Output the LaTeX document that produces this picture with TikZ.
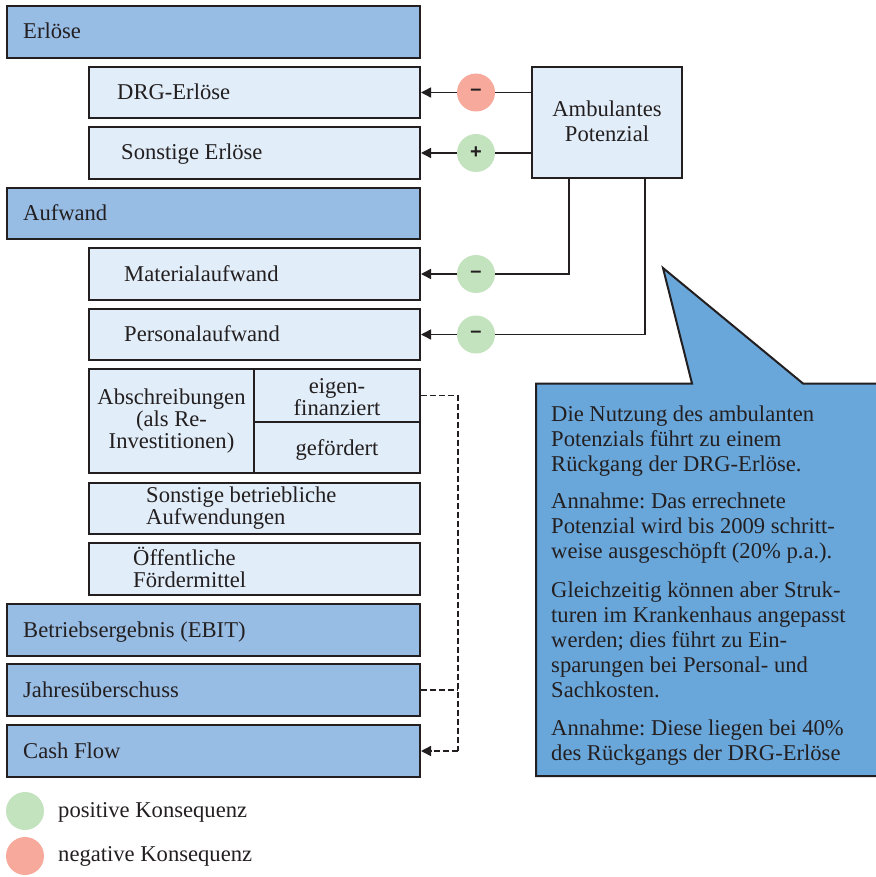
\documentclass[tikz,border=0pt]{standalone}
\usepackage{fontspec}
\setmainfont{Liberation Serif}
\newfontfamily\signfont{Liberation Sans}
\usetikzlibrary{arrows.meta}
\frenchspacing
\definecolor{ink}{HTML}{231F20}
\definecolor{darkfill}{HTML}{98BDE4}
\definecolor{lightfill}{HTML}{E1EDF8}
\definecolor{callfill}{HTML}{69A7DB}
\definecolor{posfill}{HTML}{C3E2BE}
\definecolor{negfill}{HTML}{F7A99C}
\newcommand\myfs{\fontsize{22.6}{25}\selectfont}
\tikzset{
  boxbase/.style={draw=ink, line width=2pt, inner sep=0, rectangle},
  darkbox/.style={boxbase, fill=darkfill},
  lightbox/.style={boxbase, fill=lightfill},
  txt/.style={inner sep=0, font=\myfs, text=ink},
  lt/.style={txt, anchor=base west},
  ct/.style={txt, anchor=base},
  sign/.style={circle, minimum size=38pt, inner sep=0, draw=none, font=\signfont\bfseries\fontsize{20}{20}\selectfont, text=ink},
  conn/.style={draw=ink, line width=1.5pt},
  arr/.style={conn, -{Triangle[length=10pt,width=10pt]}},
  dashconn/.style={draw=ink, line width=1.4pt, dash pattern=on 6pt off 3pt},
}
\begin{document}
\begin{tikzpicture}[x=1pt,y=-1pt]
\useasboundingbox (0,0) rectangle (875,877);

% left column boxes
\node[darkbox, minimum width=413pt, minimum height=52pt] (erl) at (213.5,32) {};
\node[lightbox, minimum width=331pt, minimum height=51pt] (drg) at (254.5,92.5) {};
\node[lightbox, minimum width=331pt, minimum height=52pt] (son) at (254.5,153) {};
\node[darkbox, minimum width=413pt, minimum height=51pt] (auf) at (213.5,213.5) {};
\node[lightbox, minimum width=331pt, minimum height=52pt] (mat) at (254.5,274) {};
\node[lightbox, minimum width=331pt, minimum height=51pt] (per) at (254.5,334.5) {};
\node[lightbox, minimum width=165pt, minimum height=104pt] (abs) at (171.5,421) {};
\node[lightbox, minimum width=166pt, minimum height=53pt] (eig) at (337,395.5) {};
\node[lightbox, minimum width=166pt, minimum height=51pt] (gef) at (337,447.5) {};
\node[lightbox, minimum width=331pt, minimum height=51pt] (sba) at (254.5,508.5) {};
\node[lightbox, minimum width=331pt, minimum height=52pt] (oef) at (254.5,569) {};
\node[darkbox, minimum width=413pt, minimum height=52pt] (ebit) at (213.5,630) {};
\node[darkbox, minimum width=413pt, minimum height=52pt] (jahr) at (213.5,690) {};
\node[darkbox, minimum width=413pt, minimum height=52pt] (cash) at (213.5,751) {};

% texts
\node[lt] (t-erl) at (23,39) {Erlöse};
\node[lt] (t-drg) at (117,99.5) {DRG-Erlöse};
\node[lt] (t-son) at (121,160) {Sonstige Erlöse};
\node[lt] (t-auf) at (23,220.5) {Aufwand};
\node[lt] (t-mat) at (124,281) {Materialaufwand};
\node[lt] (t-per) at (124,341.5) {Personalaufwand};
\node[ct] (t-abs1) at (171.5,404) {Abschreibungen};
\node[ct] (t-abs2) at (171.5,426) {(als Re-};
\node[ct] (t-abs3) at (171.5,448) {Investitionen)};
\node[ct] (t-eig1) at (337,393) {eigen-};
\node[ct] (t-eig2) at (337,415) {finanziert};
\node[ct] (t-gef) at (337,455) {gefördert};
\node[lt] (t-sba1) at (146,502) {Sonstige betriebliche};
\node[lt] (t-sba2) at (146,524) {Aufwendungen};
\node[lt] (t-oef1) at (133,565) {Öffentliche};
\node[lt] (t-oef2) at (133,587) {Fördermittel};
\node[lt] (t-ebit) at (23,637) {Betriebsergebnis (EBIT)};
\node[lt] (t-jahr) at (23,697) {Jahresüberschuss};
\node[lt] (t-cash) at (23,758) {Cash Flow};

% Ambulantes Potenzial
\node[lightbox, minimum width=150pt, minimum height=111pt] (amb) at (607,122.5) {};
\node[ct] (t-amb1) at (607,117) {Ambulantes};
\node[ct] (t-amb2) at (607,142) {Potenzial};

% sign circles
\node[sign, fill=negfill] (c1) at (476,92.5) {–};
\node[sign, fill=posfill] (c2) at (476,153) {+};
\node[sign, fill=posfill] (c3) at (476,274) {–};
\node[sign, fill=posfill] (c4) at (476,334.5) {–};

\coordinate (a1) at (569,178);
\coordinate (a2) at (645,178);

\draw[conn] (amb.west |- c1) -- (c1);
\draw[arr] (c1) -- (drg.east);
\draw[conn] (amb.west |- c2) -- (c2);
\draw[arr] (c2) -- (son.east);
\draw[conn] (a1) |- (c3);
\draw[arr] (c3) -- (mat.east);
\draw[conn] (a2) |- (c4);
\draw[arr] (c4) -- (per.east);

% dashed connectors
\coordinate (d1) at (458,395.5);
\coordinate (d2) at (458,690);
\coordinate (d3) at (458,751);
\draw[dashconn] (eig.east) -- (d1) -- (d3);
\draw[dashconn] (jahr.east) -- (d2);
\draw[dashconn, -{Triangle[length=10pt,width=10pt]}] (d3) -- (cash.east);

% callout
\draw[draw=ink, line width=2pt, fill=callfill, line join=miter]
  (536,383.5) -- (692,383.5) -- (663,268) -- (803,383.5) -- (890,383.5)
  -- (890,776) -- (536,776) -- cycle;
\foreach \i/\y/\s in {1/421/{Die Nutzung des ambulanten},
                      2/446/{Potenzials führt zu einem},
                      3/471/{Rückgang der DRG-Erlöse.},
                      4/508/{Annahme: Das errechnete},
                      5/533/{Potenzial wird bis 2009 schritt-},
                      6/558/{weise ausgeschöpft (20\% p.a.).},
                      7/597/{Gleichzeitig können aber Struk-},
                      8/622/{turen im Krankenhaus angepasst},
                      9/647/{werden; dies führt zu Ein-},
                      10/672/{sparungen bei Personal- und},
                      11/697/{Sachkosten.},
                      12/735/{Annahme: Diese liegen bei 40\%},
                      13/760/{des Rückgangs der DRG-Erlöse}}
  \node[lt] (cl\i) at (551,\y) {\s};

% legend
\node[circle, minimum size=38pt, inner sep=0, fill=posfill] (lp) at (25,811) {};
\node[circle, minimum size=38pt, inner sep=0, fill=negfill] (ln) at (25,856) {};
\node[lt] (t-lp) at (58,817) {positive Konsequenz};
\node[lt] (t-ln) at (58,861) {negative Konsequenz};
\end{tikzpicture}
\end{document}
